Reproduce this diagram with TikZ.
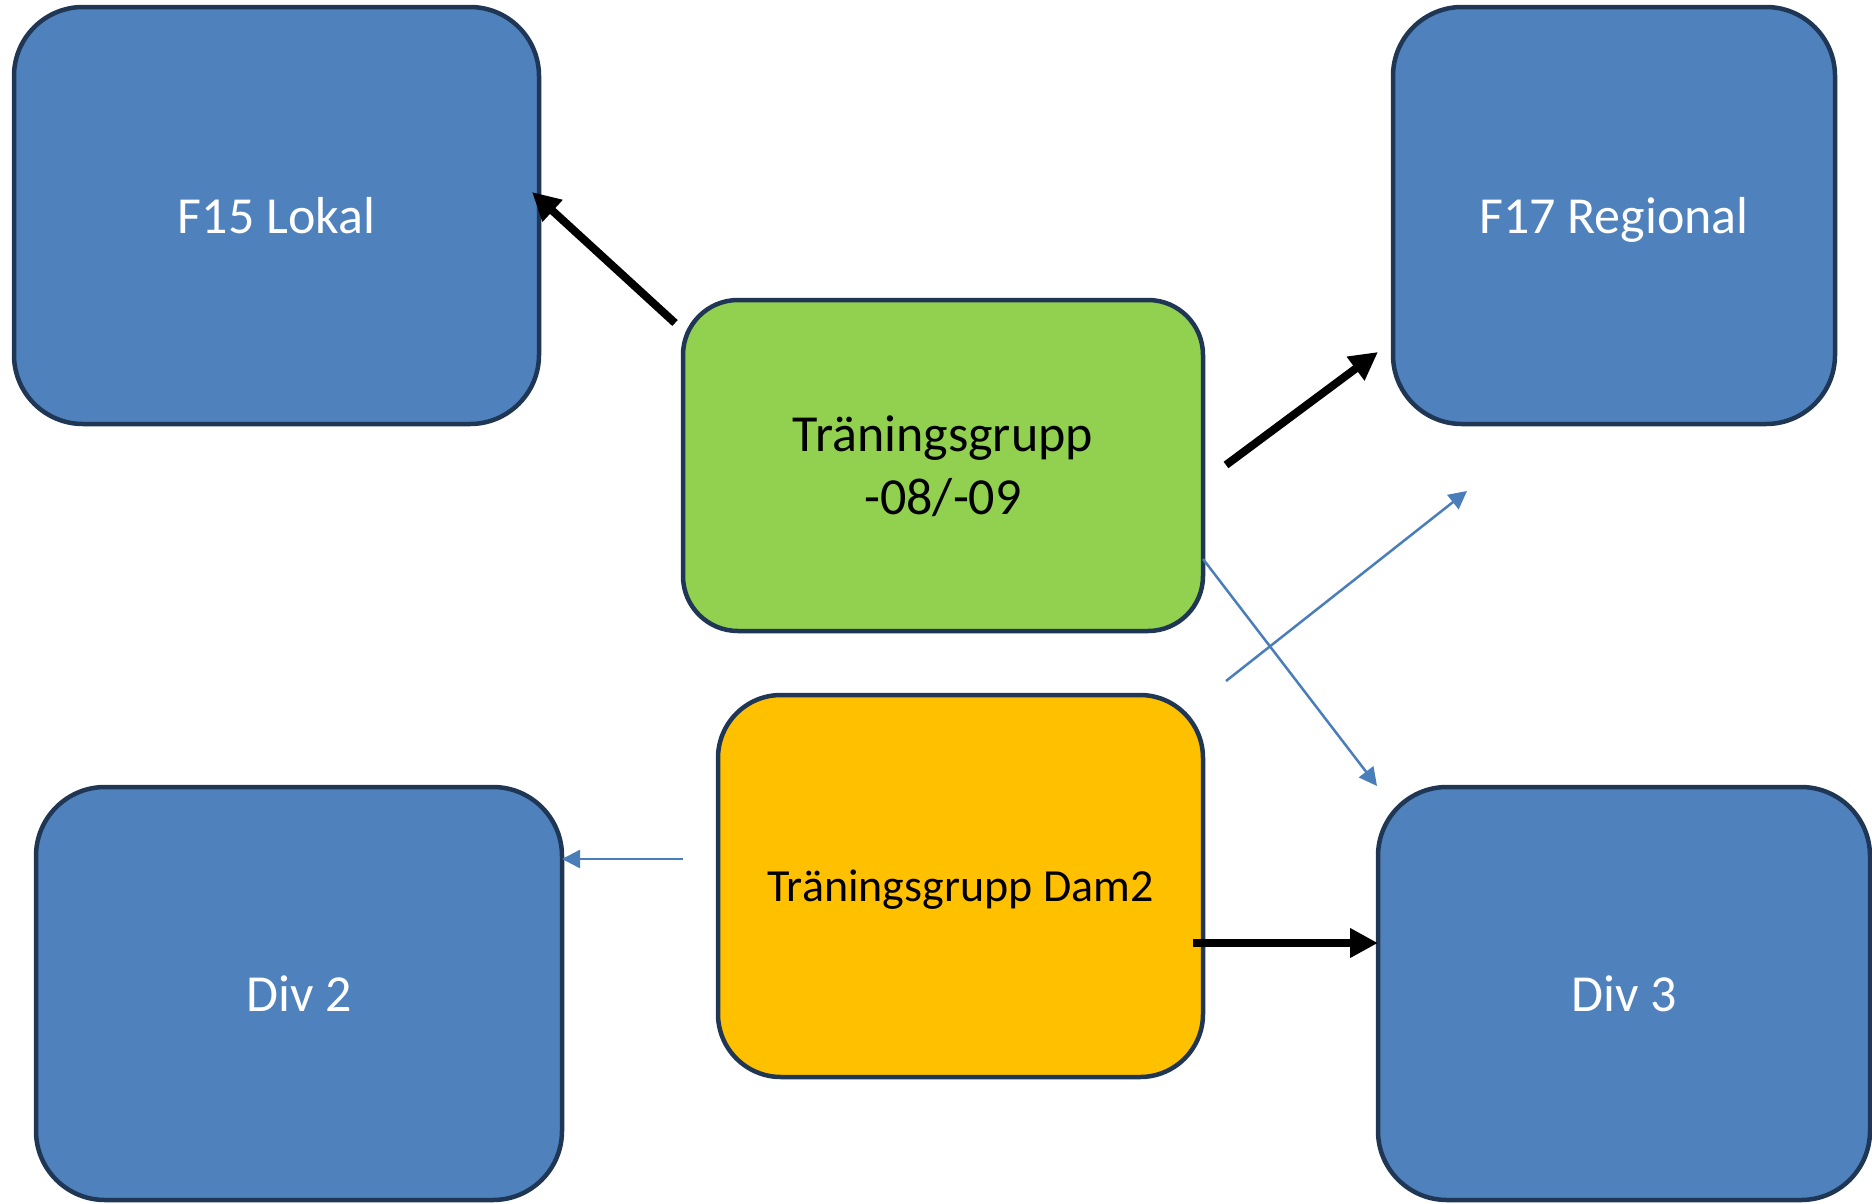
\documentclass[tikz,border=0pt]{standalone}
\usepackage{fontspec}
\setmainfont{Carlito}
\usetikzlibrary{arrows.meta}
\definecolor{boxblue}{RGB}{79,129,189}
\definecolor{boxgreen}{RGB}{146,208,80}
\definecolor{boxorange}{RGB}{255,192,0}
\definecolor{boxline}{RGB}{31,54,84}
\definecolor{thinblue}{RGB}{74,126,187}
\tikzset{
  card/.style={draw=boxline, line width=4.5pt, rectangle, inner sep=0pt, outer sep=0pt, align=center, text depth=0pt},
  bluecard/.style={card, fill=boxblue, text=white, font=\fontsize{52}{63}\selectfont},
  greencard/.style={card, fill=boxgreen, text=black, font=\fontsize{52}{63}\selectfont},
  orangecard/.style={card, fill=boxorange, text=black, font=\fontsize{46}{56}\selectfont},
  thickarrow/.style={draw=black, line width=8pt, -{Triangle[length=28pt,width=28pt]}},
  thinarrow/.style={draw=thinblue, line width=2.5pt, -{Triangle[length=18pt,width=18pt]}}
}
\begin{document}
\begin{tikzpicture}[x=1pt,y=-1pt]
\useasboundingbox (0,0) rectangle (1872,1203);
\node[bluecard, rounded corners=69pt, minimum width=525pt, minimum height=417pt] (f15) at (276.5,215.5) {F15 Lokal};
\node[bluecard, rounded corners=69pt, minimum width=442pt, minimum height=417pt] (f17) at (1614,215.5) {F17 Regional};
\node[greencard, rounded corners=55pt, minimum width=520pt, minimum height=331pt] (grp) at (943,465.5) {Träningsgrupp\\-08/-09};
\node[orangecard, rounded corners=63pt, minimum width=485pt, minimum height=382pt] (dam) at (960.5,886) {Träningsgrupp Dam2};
\node[bluecard, rounded corners=69pt, minimum width=526pt, minimum height=413pt] (div2) at (299,993.5) {Div 2};
\node[bluecard, rounded corners=69pt, minimum width=492pt, minimum height=413pt] (div3) at (1624,993.5) {Div 3};
% connector end points
\coordinate (a1s) at (675,323);
\coordinate (a1e) at (532,192);
\coordinate (a2s) at (1226,465);
\coordinate (a2e) at (1378,352);
\coordinate (a3s) at (1226,681);
\coordinate (a3e) at (1467,491);
\coordinate (a4s) at (1203,559);
\coordinate (a4e) at (1377,786);
\coordinate (a5s) at (683,859);
\coordinate (a6s) at (1193,943);
\draw[thickarrow] (a1s) -- (a1e);
\draw[thickarrow] (a2s) -- (a2e);
\draw[thinarrow] (a3s) -- (a3e);
\draw[thinarrow] (a4s) -- (a4e);
\draw[thinarrow] (a5s) -- (a5s -| div2.east);
\draw[thickarrow] (a6s) -- (a6s -| div3.west);
\end{tikzpicture}
\end{document}
